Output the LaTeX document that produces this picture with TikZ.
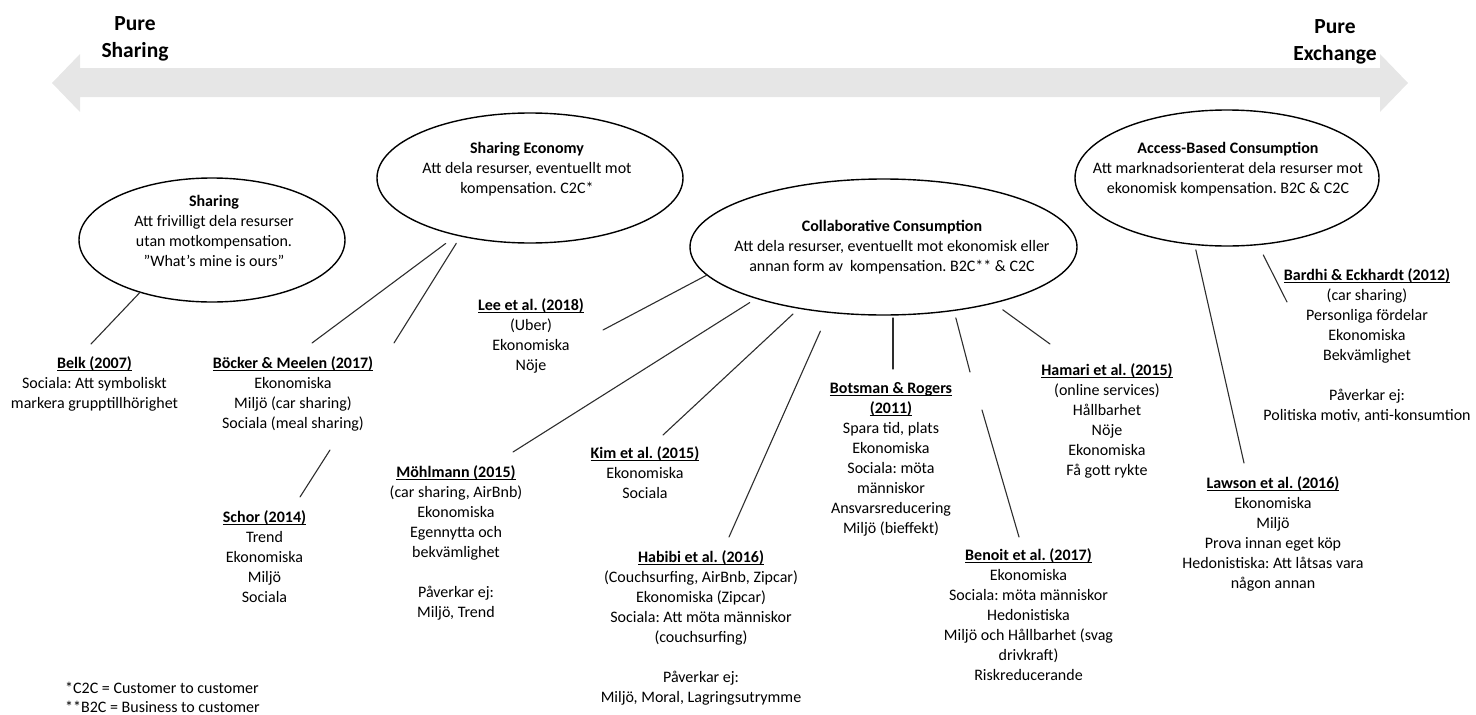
\documentclass[tikz,border=0pt]{standalone}
\usepackage{fontspec}
\setmainfont{Carlito}
\usetikzlibrary{shapes.geometric}

\definecolor{bandgray}{RGB}{230,230,230}
\definecolor{inkline}{RGB}{45,45,45}

% body text: 16pt on a 20pt grid
\newcommand\bodysize{\fontsize{16}{20}\selectfont}
% bold heading with a close underline
\newsavebox\ulbox
\newcommand\ulh[1]{\sbox\ulbox{\bfseries #1}\rlap{\rule[-2.6pt]{\wd\ulbox}{0.9pt}}\usebox\ulbox}

\begin{document}
\frenchspacing
\begin{tikzpicture}[x=1pt, y=-1pt, line cap=round,
  oval/.style={ellipse, draw=black, line width=1.4pt, inner sep=0pt, outer sep=0pt},
  lit/.style={anchor=north, inner sep=0pt, align=center, font=\bodysize},
  endlabel/.style={anchor=north, inner sep=0pt, align=center, font=\fontsize{21.5}{27}\selectfont\bfseries},
  link/.style={draw=inkline, line width=1.1pt}]

\useasboundingbox (0,0) rectangle (1476,715);

% spectrum band with heads at both ends
\fill[bandgray] (52,83) -- (80,54) -- (80,68) -- (1380,68) -- (1380,54) -- (1408,83)
  -- (1380,112) -- (1380,97) -- (80,97) -- (80,112) -- cycle;
\node[endlabel] (pure-sharing) at (135,11.1) {\strut Pure\\Sharing};
\node[endlabel] (pure-exchange) at (1335,14.1) {\strut Pure\\Exchange};

% concept ovals
\node[oval, minimum width=266pt, minimum height=124pt] (sh) at (212,240) {};
\node[oval, minimum width=306pt, minimum height=130pt] (se) at (530,178) {};
\node[oval, minimum width=387pt, minimum height=136pt] (cc) at (883.5,247) {};
\node[oval, minimum width=304pt, minimum height=136pt] (ab) at (1227,178) {};

\node[lit] (sh-t) at (214,192) {\strut\textbf{Sharing}\\Att frivilligt dela resurser\\utan motkompensation.\\”What’s mine is ours”};
\node[lit] (se-t) at (527,139) {\strut\textbf{Sharing Economy}\\Att dela resurser, eventuellt mot\\kompensation. C2C*};
\node[lit] (cc-t) at (892,217) {\strut\textbf{Collaborative Consumption}\\Att dela resurser, eventuellt mot ekonomisk eller\\annan form av\ \ kompensation. B2C** \& C2C};
\node[lit] (ab-t) at (1228,139) {\strut\textbf{Access-Based Consumption}\\Att marknadsorienterat dela resurser mot\\ekonomisk kompensation. B2C \& C2C};

% studies
\node[lit] (belk) at (94.5,354) {\strut\ulh{Belk (2007)}\\Sociala: Att symboliskt\\markera grupptillhörighet};
\node[lit] (bocker) at (293,354) {\strut\ulh{Böcker \& Meelen (2017)}\\Ekonomiska\\Miljö (car sharing)\\Sociala (meal sharing)};
\node[lit] (schor) at (264.5,508) {\strut\ulh{Schor (2014)}\\Trend\\Ekonomiska\\Miljö\\Sociala};
\node[lit] (lee) at (531,296) {\strut\ulh{Lee et al. (2018)}\\(Uber)\\Ekonomiska\\Nöje};
\node[lit] (mohl) at (456,463) {\strut\ulh{Möhlmann (2015)}\\(car sharing, AirBnb)\\Ekonomiska\\Egennytta och\\bekvämlighet\\~\\Påverkar ej:\\Miljö, Trend};
\node[lit] (kim) at (645,444) {\strut\ulh{Kim et al. (2015)}\\Ekonomiska\\Sociala};
\node[lit] (habibi) at (701,548) {\strut\ulh{Habibi et al. (2016)}\\(Couchsurfing, AirBnb, Zipcar)\\Ekonomiska (Zipcar)\\Sociala: Att möta människor\\(couchsurfing)\\~\\Påverkar ej:\\Miljö, Moral, Lagringsutrymme};
\node[lit] (botsman) at (891,379) {\strut\ulh{Botsman \& Rogers}\\\ulh{(2011)}\\Spara tid, plats\\Ekonomiska\\Sociala: möta\\människor\\Ansvarsreducering\\Miljö (bieffekt)};
\node[lit] (hamari) at (1107,361) {\strut\ulh{Hamari et al. (2015)}\\(online services)\\Hållbarhet\\Nöje\\Ekonomiska\\Få gott rykte};
\node[lit] (benoit) at (1028.5,546) {\strut\ulh{Benoit et al. (2017)}\\Ekonomiska\\Sociala: möta människor\\Hedonistiska\\Miljö och Hållbarhet (svag\\drivkraft)\\Riskreducerande};
\node[lit] (bardhi) at (1367,266) {\strut\ulh{Bardhi \& Eckhardt (2012)}\\(car sharing)\\Personliga fördelar\\Ekonomiska\\Bekvämlighet\\~\\Påverkar ej:\\Politiska motiv, anti-konsumtion};
\node[lit] (lawson) at (1273,474) {\strut\ulh{Lawson et al. (2016)}\\Ekonomiska\\Miljö\\Prova innan eget köp\\Hedonistiska: Att låtsas vara\\någon annan};

% footnotes
\node[anchor=north west, inner sep=0pt, align=left, font=\fontsize{16}{19}\selectfont] (notes) at (65,679.7)
  {\strut*C2C = Customer to customer\\**B2C = Business to customer};

% line ends next to the studies
\coordinate (belk-in) at (91,344);
\coordinate (bocker-in1) at (312,343);
\coordinate (bocker-in2) at (394,343);
\coordinate (bocker-out) at (330,450);
\coordinate (schor-in) at (300,497);
\coordinate (lee-in) at (603,330);
\coordinate (mohl-in) at (513,452);
\coordinate (kim-in) at (663,435);
\coordinate (habibi-in) at (729,537);
\coordinate (botsman-in) at (893,369);
\coordinate (benoit-gap1) at (970,372);
\coordinate (benoit-gap2) at (982,410);
\coordinate (benoit-in) at (1019,537);
\coordinate (hamari-in) at (1050,344);
\coordinate (lawson-in) at (1244,463);
\coordinate (bardhi-in) at (1287,302);

% connectors
\draw[link] (sh.-144.5) -- (belk-in);
\draw[link, shorten <=14pt] (se.-142.9) -- (bocker-in1);
\draw[link, shorten <=8.7pt] (se.-140.7) -- (bocker-in2);
\draw[link] (bocker-out) -- (schor-in);
\draw[link] (cc.-171.2) -- (lee-in);
\draw[link, shorten <=8pt] (cc.-158.7) -- (mohl-in);
\draw[link, shorten <=8.5pt] (cc.-144) -- (kim-in);
\draw[link, shorten <=20.7pt] (cc.-130.8) -- (habibi-in);
\draw[link, shorten <=3pt] (cc.south -| botsman-in) -- (botsman-in);
\draw[link, shorten <=7.8pt] (cc.-42.4) -- (benoit-gap1);
\draw[link] (benoit-gap2) -- (benoit-in);
\draw[link, shorten <=11.6pt] (cc.-27) -- (hamari-in);
\draw[link, shorten <=5.5pt] (ab.-116.5) -- (lawson-in);
\draw[link, shorten <=11.6pt] (ab.-65.3) -- (bardhi-in);

\end{tikzpicture}
\end{document}
